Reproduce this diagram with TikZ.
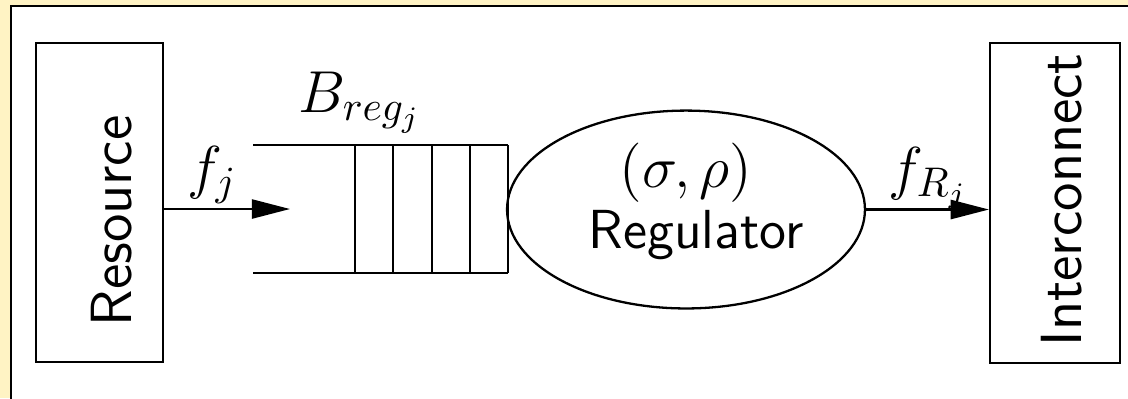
\RequirePackage{fix-cm}
\documentclass[tikz,border=0pt]{standalone}
\usetikzlibrary{arrows.meta,shapes.geometric}
\definecolor{pagebg}{RGB}{255,243,196}
\begin{document}
\begin{tikzpicture}[x=0.2618pt,y=-0.2618pt,
  font=\fontsize{15.5}{18}\selectfont,
  boxline/.style={line width=0.6pt},
  blockbox/.style={draw,boxline,rectangle,inner sep=0pt},
  regbox/.style={draw,boxline,ellipse,inner sep=0pt,minimum width=93.7pt,minimum height=51.8pt},
  flow/.style={boxline,-{Triangle[length=10pt,width=5pt]}},
  lbl/.style={inner sep=0pt,anchor=base},
  sidelbl/.style={inner sep=0pt,rotate=90,font=\fontsize{15.2}{18}\selectfont\sffamily}]
\useasboundingbox (0,0) rectangle (1128,398);
\fill[pagebg] (0,0) rectangle (1128,398);
\clip (0,0) rectangle (1128,398);
% framed white panel
\filldraw[fill=white,line width=0.55pt] (11,5.7) rectangle (1140,410);

% source and sink blocks
\node[blockbox,minimum width=33.25pt,minimum height=83.5pt] (res) at (99.5,202.5) {};
\node[sidelbl] (reslbl) at (112,221) {Resource};
\node[blockbox,minimum width=34pt,minimum height=83.8pt] (ic) at (1055,203) {};
\node[sidelbl] (iclbl) at (1062,200) {Interconnect};

% buffer queue
\draw[boxline] (253,145) -- (508,145);
\draw[boxline] (253,273) -- (508,273);
\foreach \qx in {355,393,432,470,508}
  \draw[boxline] (\qx,145) -- (\qx,273);
\node[lbl] (buf) at (360,112) {$B_{reg_j}$};

% regulator
\node[regbox] (reg) at (686,209.5) {};
\node[lbl] (sr) at (686,187) {$(\sigma,\rho)$};
\node[lbl,font=\fontsize{14.4}{18}\selectfont\sffamily] (reglbl) at (696,248) {Regulator};

% flows
\coordinate (qin) at (290,209);
\draw[flow] (res.east |- qin) -- (qin);
\node[lbl] (fj) at (212,187) {$f_j$};
\draw[flow] (reg.east) -- (reg.east -| ic.west);
\node[lbl] (frj) at (928,188) {$f_{R_j}$};
\end{tikzpicture}
\end{document}
